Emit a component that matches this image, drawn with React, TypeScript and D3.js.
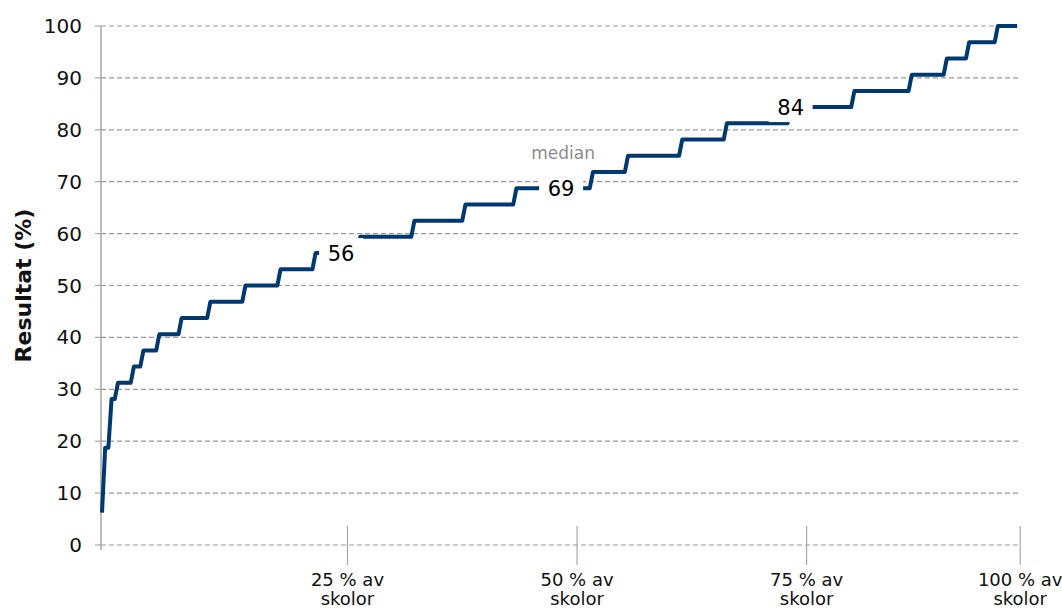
import React from "react";
import * as d3 from "d3";

// Result values (score steps) and number of schools at each step, sorted ascending
const stepValues = [6.25, 18.75, 28.125, 31.25, 34.375, 37.5, 40.625, 43.75, 46.875, 50, 53.125, 56.25, 59.375, 62.5, 65.625, 68.75, 71.875, 75, 78.125, 81.25, 84.375, 87.5, 90.625, 93.75, 96.875, 100];
const stepCounts = [1, 2, 2, 5, 3, 5, 7, 9, 11, 11, 11, 14, 17, 16, 16, 24, 11, 17, 14, 20, 20, 18, 11, 7, 9, 7];

const yTicks = [0, 10, 20, 30, 40, 50, 60, 70, 80, 90, 100];
const xTickIdx = [77, 149, 221, 288];
const xTickLine1 = ["25 % av", "50 % av", "75 % av", "100 % av"];
const xTickLine2 = ["skolor", "skolor", "skolor", "skolor"];

const quartileIdx = [75, 144, 216];
const quartileLabels = ["56", "69", "84"];
const medianText = "median";
const yTitle = "Resultat (%)";

const W = 1062;
const H = 608;
const FONT = "Verdana, 'DejaVu Sans', sans-serif";

export default function App() {
  const values: number[] = [];
  stepValues.forEach((v, i) => {
    for (let k = 0; k < stepCounts[i]; k++) values.push(v);
  });
  const N = values.length;

  const x = d3.scaleLinear().domain([0, N - 1]).range([102, 1017]);
  const y = d3.scaleLinear().domain([0, 100]).range([545, 26]);
  const gridX0 = 101;
  const gridX1 = x(xTickIdx[xTickIdx.length - 1]);

  const line = d3
    .line<number>()
    .x((_, i) => x(i))
    .y((d) => y(d))
    .curve(d3.curveLinear);

  const gridColor = "#9a9a9a";
  const axisColor = "#a6a6a6";

  return (
    <svg
      width={W}
      height={H}
      style={{ position: "absolute", left: 0, top: 0, background: "#fff" }}
      fontFamily={FONT}
    >
      <rect x={0} y={0} width={W} height={H} fill="#fff" />
      {/* gridlines */}
      {yTicks.map((t) => (
        <line
          key={"g" + t}
          x1={gridX0}
          x2={gridX1}
          y1={y(t)}
          y2={y(t)}
          stroke={gridColor}
          strokeWidth={1.2}
          strokeDasharray="5,3"
        />
      ))}
      {/* y axis */}
      <line x1={101} x2={101} y1={y(100)} y2={y(0) + 5} stroke={axisColor} strokeWidth={1.5} />
      {yTicks.map((t) => (
        <g key={"yt" + t}>
          <line x1={95} x2={101} y1={y(t)} y2={y(t)} stroke={axisColor} strokeWidth={1.2} />
          <text x={82} y={y(t)} textAnchor="end" dominantBaseline="central" fontSize={20} fill="#111">
            {t}
          </text>
        </g>
      ))}
      <text
        transform={`translate(23, ${(y(0) + y(100)) / 2}) rotate(-90)`}
        textAnchor="middle"
        dominantBaseline="central"
        fontSize={22}
        fontWeight="bold"
        fill="#111"
      >
        {yTitle}
      </text>
      {/* x ticks */}
      {xTickIdx.map((t, i) => (
        <g key={"xt" + i}>
          <line x1={x(t)} x2={x(t)} y1={526} y2={565} stroke={axisColor} strokeWidth={1.2} />
          <text x={x(t)} y={579} textAnchor="middle" dominantBaseline="central" fontSize={18} fill="#111">
            {xTickLine1[i]}
          </text>
          <text x={x(t)} y={598.5} textAnchor="middle" dominantBaseline="central" fontSize={18} fill="#111">
            {xTickLine2[i]}
          </text>
        </g>
      ))}
      {/* data line */}
      <path d={line(values) || ""} fill="none" stroke="#003870" strokeWidth={4} strokeLinejoin="round" />
      {/* quartile labels */}
      {quartileIdx.map((qi, i) => {
        const cx = x(qi);
        const cy = y(values[qi]);
        return (
          <g key={"q" + i}>
            <rect x={cx - 22} y={cy - 15} width={44} height={30} fill="#fff" />
            <text x={cx} y={cy + 1} textAnchor="middle" dominantBaseline="central" fontSize={21} fill="#000">
              {quartileLabels[i]}
            </text>
          </g>
        );
      })}
      <text
        x={x(quartileIdx[1]) + 2}
        y={y(values[quartileIdx[1]]) - 35}
        textAnchor="middle"
        dominantBaseline="central"
        fontSize={17}
        fill="#8c8c8c"
      >
        {medianText}
      </text>
    </svg>
  );
}
